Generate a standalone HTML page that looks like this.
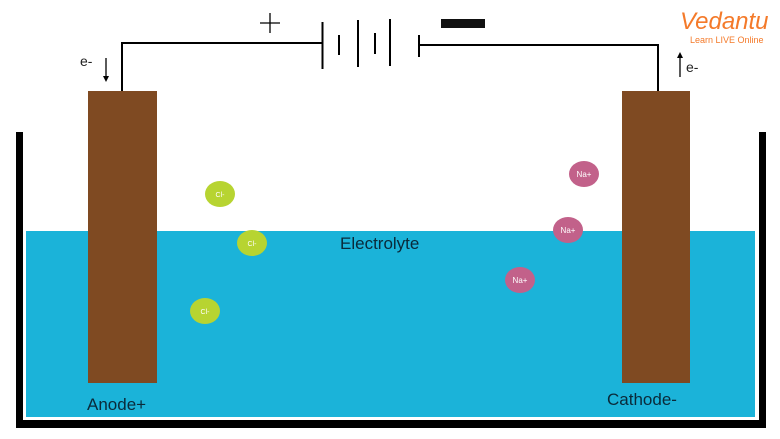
<!DOCTYPE html>
<html><head><meta charset="utf-8"><style>
html,body{margin:0;padding:0;background:#fff;}
svg{display:block;}
</style></head><body>
<svg width="780" height="439" viewBox="0 0 780 439" xmlns="http://www.w3.org/2000/svg" font-family="Liberation Sans, DejaVu Sans, sans-serif">
<rect x="0" y="0" width="780" height="439" fill="#fff"/>
<!-- container -->
<rect x="16" y="132" width="7" height="296" fill="#000"/>
<rect x="759" y="132" width="7" height="296" fill="#000"/>
<rect x="16" y="420" width="750" height="8" fill="#000"/>
<!-- liquid -->
<rect x="26" y="231" width="729" height="186" fill="#1bb3d9"/>
<!-- electrodes -->
<rect x="88" y="91" width="69" height="292" fill="#7f4a22"/>
<rect x="622" y="91" width="68" height="292" fill="#7f4a22"/>
<!-- wires -->
<g stroke="#000" stroke-width="2" fill="none">
<polyline points="122,91 122,43 322,43"/>
<polyline points="658,91 658,45 419,45"/>
<line x1="322.5" y1="22" x2="322.5" y2="69"/>
<line x1="339" y1="35" x2="339" y2="55"/>
<line x1="358" y1="20" x2="358" y2="67"/>
<line x1="375" y1="33" x2="375" y2="54"/>
<line x1="390" y1="19" x2="390" y2="66"/>
<line x1="419" y1="35" x2="419" y2="57"/>
<line x1="260" y1="23" x2="280" y2="23" stroke-width="1.3"/>
<line x1="270" y1="13" x2="270" y2="33" stroke-width="1.3"/>
<line x1="106" y1="58" x2="106" y2="78" stroke-width="1.3"/>
<line x1="680" y1="56" x2="680" y2="77" stroke-width="1.3"/>
</g>
<rect x="441" y="19" width="44" height="9" fill="#111"/>
<polygon points="103,76 109,76 106,82" fill="#000"/>
<polygon points="677,58 683,58 680,52" fill="#000"/>
<text x="80" y="66" font-size="14" fill="#222">e-</text>
<text x="686" y="72" font-size="14" fill="#222">e-</text>
<!-- logo -->
<text x="680" y="29" font-size="24" fill="#f47a2a" font-style="italic">Vedantu</text>
<text x="690" y="43" font-size="9" fill="#f47a2a">Learn LIVE Online</text>
<!-- ions -->
<g fill="#b7d431">
<ellipse cx="220" cy="194" rx="15" ry="13"/>
<ellipse cx="252" cy="243" rx="15" ry="13"/>
<ellipse cx="205" cy="311" rx="15" ry="13"/>
</g>
<g fill="#fff" font-size="7" text-anchor="middle">
<text x="220" y="197">Cl-</text>
<text x="252" y="246">Cl-</text>
<text x="205" y="314">Cl-</text>
</g>
<g fill="#c2618a">
<ellipse cx="584" cy="174" rx="15" ry="13"/>
<ellipse cx="568" cy="230" rx="15" ry="13"/>
<ellipse cx="520" cy="280" rx="15" ry="13"/>
</g>
<g fill="#fff" font-size="8" text-anchor="middle">
<text x="584" y="177">Na+</text>
<text x="568" y="233">Na+</text>
<text x="520" y="283">Na+</text>
</g>
<text x="340" y="249" font-size="17" fill="#0a2a3a">Electrolyte</text>
<text x="87" y="410" font-size="17" fill="#0a2a3a">Anode+</text>
<text x="607" y="405" font-size="17" fill="#0a2a3a">Cathode-</text>
</svg>
</body></html>
